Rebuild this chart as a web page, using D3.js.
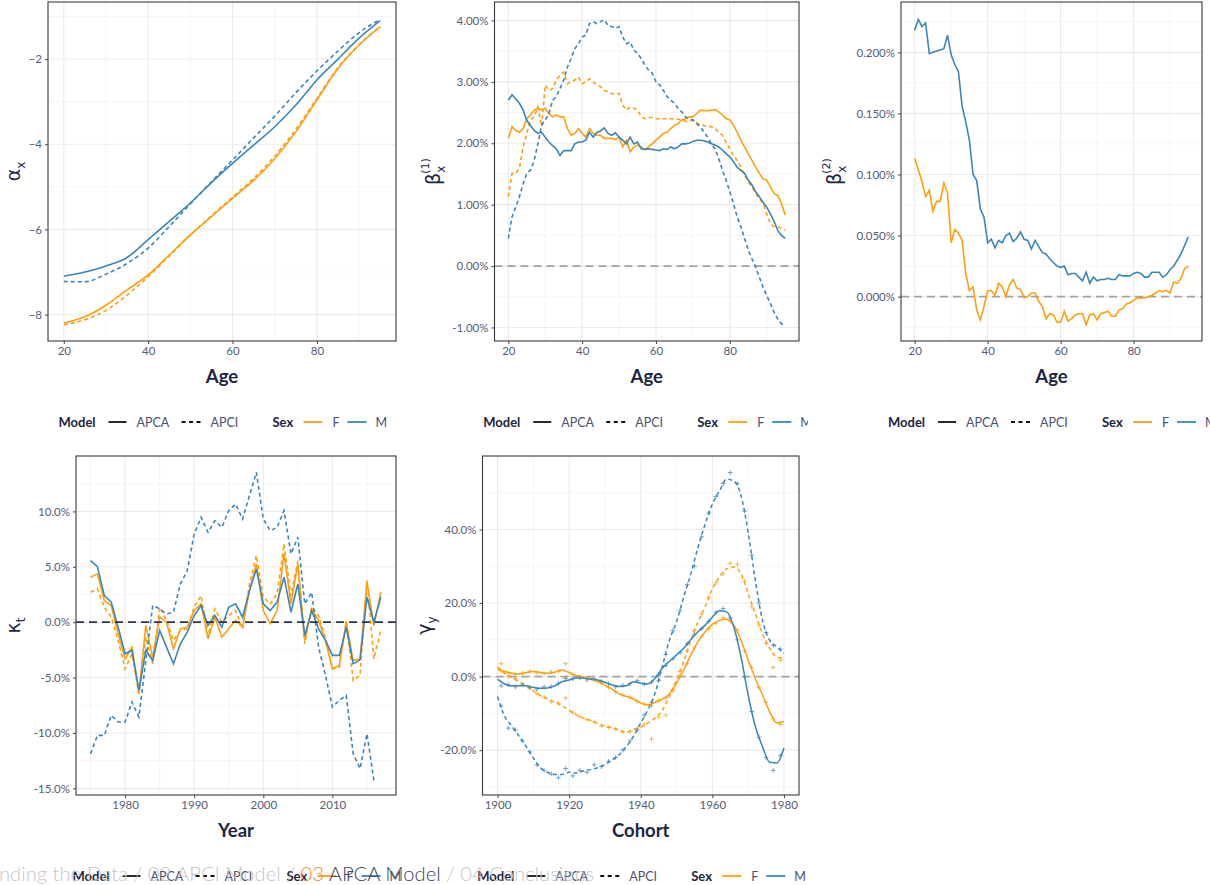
<!DOCTYPE html>
<html>
<head>
<meta charset="utf-8">
<script src="https://cdn.jsdelivr.net/npm/d3@7"></script>
<style>
  body { margin: 0; background: #fff; }
  svg { display: block; font-family: Lato, "Open Sans", sans-serif; }
</style>
</head>
<body>
<svg id="chart" width="1210" height="885"></svg>
<script>
// ---- data ----
const ages5 = [20, 25, 30, 35, 40, 45, 50, 55, 60, 65, 70, 75, 80, 85, 90, 95];
const alphaApcaF = [-8.20, -8.05, -7.78, -7.42, -7.07, -6.60, -6.13, -5.70, -5.27, -4.85, -4.34, -3.71, -2.96, -2.22, -1.67, -1.24];
const alphaApciF = [-8.24, -8.12, -7.90, -7.54, -7.11, -6.62, -6.13, -5.68, -5.24, -4.80, -4.28, -3.65, -2.92, -2.20, -1.66, -1.24];
const alphaApcaM = [-7.10, -7.00, -6.86, -6.66, -6.24, -5.81, -5.38, -4.90, -4.45, -4.02, -3.59, -3.08, -2.49, -2.00, -1.51, -1.10];
const alphaApciM = [-7.22, -7.23, -7.05, -6.80, -6.44, -5.93, -5.40, -4.88, -4.37, -3.85, -3.34, -2.79, -2.28, -1.81, -1.38, -1.07];

const ages = d3.range(20, 96);
const beta1ApcaF = [2.08, 2.27, 2.21, 2.18, 2.24, 2.40, 2.46, 2.54, 2.57, 2.54, 2.57, 2.48, 2.43, 2.46, 2.43, 2.43, 2.24, 2.13, 2.16, 2.24,
  2.16, 2.10, 2.24, 2.16, 2.13, 2.13, 2.08, 2.08, 2.08, 2.06, 2.10, 1.94, 2.05, 1.86, 1.94, 1.97, 1.94, 1.90, 1.94, 1.99,
  2.05, 2.10, 2.16, 2.18, 2.24, 2.29, 2.32, 2.38, 2.40, 2.43, 2.43, 2.48, 2.54, 2.53, 2.53, 2.54, 2.55, 2.51, 2.46, 2.40,
  2.38, 2.29, 2.18, 2.05, 1.94, 1.83, 1.72, 1.61, 1.51, 1.42, 1.40, 1.29, 1.18, 1.15, 1.02, 0.83];
const beta1ApciF = [1.13, 1.51, 1.51, 1.59, 1.94, 2.16, 2.38, 2.43, 2.59, 2.27, 2.95, 2.86, 2.89, 3.03, 3.11, 3.16, 2.97, 3.00, 3.03, 3.08,
  2.97, 3.00, 3.05, 3.00, 2.95, 2.92, 2.86, 2.84, 2.81, 2.80, 2.81, 2.62, 2.54, 2.59, 2.57, 2.54, 2.43, 2.40, 2.42, 2.42,
  2.40, 2.40, 2.40, 2.40, 2.40, 2.40, 2.39, 2.38, 2.36, 2.35, 2.38, 2.33, 2.31, 2.29, 2.27, 2.27, 2.24, 2.18, 2.13, 2.02,
  1.91, 1.80, 1.72, 1.61, 1.48, 1.37, 1.29, 1.18, 1.10, 1.02, 0.85, 0.69, 0.64, 0.64, 0.61, 0.58];
const beta1ApcaM = [2.70, 2.79, 2.72, 2.65, 2.54, 2.37, 2.29, 2.21, 2.16, 2.18, 2.10, 2.02, 1.96, 1.91, 1.80, 1.88, 1.88, 1.88, 1.99, 2.02,
  2.02, 2.05, 2.18, 2.10, 2.18, 2.20, 2.25, 2.16, 2.13, 2.17, 2.10, 2.05, 1.99, 2.10, 1.99, 2.02, 1.91, 1.90, 1.91, 1.90,
  1.89, 1.88, 1.91, 1.90, 1.94, 1.91, 1.94, 1.99, 1.99, 2.00, 2.03, 2.05, 2.05, 2.04, 2.02, 1.99, 1.97, 1.94, 1.89, 1.83,
  1.78, 1.70, 1.61, 1.56, 1.51, 1.40, 1.32, 1.21, 1.13, 1.04, 0.96, 0.85, 0.73, 0.58, 0.50, 0.45];
const beta1ApciM = [0.45, 0.80, 0.96, 1.13, 1.34, 1.51, 1.56, 1.72, 1.99, 2.29, 2.38, 2.48, 2.70, 2.76, 2.89, 3.03, 3.24, 3.38, 3.54, 3.62,
  3.73, 3.76, 3.95, 3.98, 3.95, 3.98, 4.01, 3.92, 3.90, 3.87, 3.90, 3.73, 3.62, 3.65, 3.52, 3.46, 3.38, 3.27, 3.19, 3.14,
  3.00, 2.95, 2.86, 2.76, 2.70, 2.65, 2.57, 2.51, 2.43, 2.40, 2.38, 2.32, 2.27, 2.18, 2.10, 1.99, 1.91, 1.75, 1.56, 1.40,
  1.21, 1.02, 0.80, 0.64, 0.45, 0.26, 0.12, -0.02, -0.18, -0.34, -0.48, -0.61, -0.75, -0.86, -0.94, -0.97];

const beta2ApcaF = [0.113, 0.104, 0.094, 0.082, 0.087, 0.070, 0.078, 0.078, 0.093, 0.085, 0.044, 0.055, 0.052, 0.046, 0.019, 0.005, 0.008, -0.011, -0.019, -0.008,
  0.005, 0.005, 0.001, 0.011, 0.008, 0.000, 0.010, 0.014, 0.007, 0.006, -0.001, 0.000, 0.003, 0.003, -0.004, -0.008, -0.018, -0.014, -0.015, -0.021,
  -0.021, -0.012, -0.020, -0.018, -0.015, -0.014, -0.014, -0.023, -0.015, -0.014, -0.019, -0.014, -0.013, -0.012, -0.016, -0.016, -0.011, -0.010, -0.006, -0.005,
  -0.003, -0.001, -0.001, -0.001, 0.000, 0.001, 0.003, 0.005, 0.004, 0.005, 0.003, 0.012, 0.011, 0.015, 0.023, 0.025];
const beta2ApcaM = [0.218, 0.227, 0.221, 0.224, 0.199, 0.200, 0.201, 0.202, 0.203, 0.214, 0.198, 0.190, 0.184, 0.156, 0.143, 0.128, 0.100, 0.095, 0.072, 0.065,
  0.044, 0.047, 0.040, 0.046, 0.044, 0.050, 0.052, 0.045, 0.048, 0.053, 0.047, 0.046, 0.039, 0.046, 0.041, 0.036, 0.035, 0.031, 0.028, 0.025,
  0.024, 0.025, 0.018, 0.019, 0.019, 0.016, 0.013, 0.020, 0.011, 0.016, 0.013, 0.014, 0.014, 0.015, 0.014, 0.014, 0.018, 0.017, 0.017, 0.017,
  0.019, 0.020, 0.019, 0.016, 0.016, 0.020, 0.020, 0.020, 0.016, 0.018, 0.022, 0.025, 0.030, 0.035, 0.042, 0.049];

const years = d3.range(1975, 2018);
const kappaApcaF = [4.06, 4.36, 1.95, 1.50, -1.05, -3.31, -2.25, -6.46, -0.30, -3.16, 0.45, 0.00, -2.40, -0.60, -0.45, 1.05, 1.65, -1.50, 0.45, -1.35, -0.60,
  0.15, -0.45, 2.85, 5.26, 1.05, -0.15, 1.05, 6.16, 1.65, 5.26, -1.65, 1.20, 0.15, -1.65, -4.21, -3.91, 0.00, -3.46, -3.31, 3.61, -0.30, 2.70];
const kappaApciF = [2.70, 3.00, 1.35, 0.45, -1.65, -4.21, -2.85, -6.46, -1.35, -3.76, 1.35, 0.15, -1.65, -0.75, -0.60, 1.35, 2.40, -1.20, 1.20, 0.00, 0.60,
  1.05, -0.60, 3.46, 6.01, 2.25, 1.65, 2.55, 7.06, 2.40, 5.56, -1.95, 1.35, 0.60, -1.50, -4.21, -4.06, 0.15, -5.26, -4.81, 3.76, -3.31, -0.75];
const kappaApcaM = [5.56, 5.02, 2.40, 1.80, -0.45, -2.85, -2.55, -6.16, -2.55, -3.46, -0.75, -2.25, -3.76, -1.95, -0.90, 0.60, 1.50, -0.30, 0.60, -0.45, 1.35,
  1.65, 0.45, 2.85, 4.81, 1.65, 1.05, 1.80, 4.06, 0.90, 3.46, -1.20, 1.05, -0.60, -1.65, -3.00, -3.00, -0.45, -3.76, -3.40, 2.25, 0.00, 2.25];
const kappaApciM = [-11.87, -10.22, -10.22, -8.41, -9.01, -9.01, -7.21, -8.56, -3.46, 1.50, 1.20, 0.75, 0.90, 3.46, 4.66, 7.96, 9.47, 8.11, 9.16, 8.56, 10.07,
  10.67, 9.31, 11.42, 13.52, 9.31, 8.26, 8.56, 10.07, 6.16, 7.66, 1.65, 2.70, -2.25, -4.81, -7.66, -7.06, -6.61, -11.87, -13.22, -10.07, -14.27, null];

const cohorts = d3.range(1900, 1981, 2);
const gammaApcaF = [2.0, 1.4, 0.9, 0.7, 1.1, 1.4, 1.1, 0.9, 1.2, 1.8, 1.1, 0.3, -0.2, -0.5, -1.4, -2.3, -3.4, -4.7, -5.4, -6.1, -7.2,
  -7.7, -7.0, -6.1, -4.7, -1.8, 1.8, 5.9, 9.5, 12.2, 14.2, 15.3, 15.6, 14.0, 9.9, 4.5, -0.5, -5.0, -9.5, -12.6, -12.2];
const gammaApciF = [2.7, 0.9, -0.2, -1.4, -2.5, -3.8, -5.2, -6.1, -7.0, -7.9, -9.2, -10.4, -11.3, -11.9, -12.8, -13.5, -14.0, -14.6, -15.2, -14.4, -13.7,
  -12.6, -11.3, -9.2, -5.4, -0.9, 4.1, 9.9, 14.9, 19.0, 23.9, 27.1, 29.3, 29.8, 28.0, 22.6, 17.1, 11.7, 7.7, 5.4, 5.0];
const gammaApcaM = [-0.7, -2.0, -2.5, -2.5, -2.5, -2.9, -3.2, -3.1, -2.5, -1.4, -0.9, -0.4, -0.4, -0.7, -0.9, -1.6, -2.3, -2.7, -2.5, -1.4, -1.8,
  -2.0, -0.5, 2.3, 4.1, 5.9, 7.7, 10.1, 12.2, 14.0, 16.2, 17.9, 17.6, 13.5, 5.4, -5.0, -13.5, -19.0, -23.3, -23.5, -19.4];
const gammaApciM = [-5.4, -10.8, -13.5, -16.2, -19.0, -22.1, -24.8, -26.0, -26.6, -26.6, -26.0, -26.2, -25.7, -25.3, -24.8, -23.9, -22.7, -21.2, -19.0, -16.2, -12.6,
  -9.0, -4.5, 2.7, 9.9, 14.9, 21.7, 28.0, 35.2, 41.5, 46.9, 50.5, 53.7, 53.2, 49.2, 39.3, 26.2, 15.3, 9.9, 8.1, 6.3];

// raw cohort estimates (the "+" marks)
const cohortsOdd = d3.range(1901, 1980, 2);
const gammaPtsApcaF = [3.5, 1.0, 0.6, 0.9, 1.5, 1.0, 0.8, 1.3, 1.4, 3.5, 0.5, -0.1, -0.4, -1.0, -1.6, -2.9, -4.2, -5.0, -5.5, -6.8,
  -7.5, -8.0, -6.5, -5.8, -3.9, 0.2, 3.5, 7.8, 11.0, 13.0, 14.5, 16.0, 15.0, 12.5, 7.0, 2.5, -3.0, -7.0, -11.5, -13.0];
const gammaPtsApciF = [1.5, 0.0, -0.5, -2.0, -3.2, -4.6, -5.6, -6.8, -7.2, -5.8, -9.8, -10.9, -11.7, -12.3, -13.4, -13.8, -14.2, -15.0, -14.9, -14.2,
  -13.0, -17.0, -11.0, -10.5, -3.5, 1.5, 7.0, 12.5, 17.0, 21.5, 25.5, 28.0, 30.8, 30.5, 26.0, 19.0, 14.0, 9.0, 2.5, 4.5];
const gammaPtsApcaM = [-2.5, -2.2, -2.8, -2.3, -3.0, -3.4, -2.8, -2.7, -1.8, -0.5, -0.6, -0.3, -0.9, -0.6, -1.3, -1.9, -2.8, -2.4, -1.9, -1.1,
  -2.1, -1.5, 0.5, 3.0, 4.8, 6.5, 9.0, 11.5, 13.0, 15.0, 17.5, 18.5, 16.0, 10.0, 0.0, -9.5, -16.5, -22.0, -25.5, -21.5];
const gammaPtsApciM = [-8.0, -14.0, -14.5, -17.5, -20.5, -24.0, -25.5, -26.5, -27.5, -25.0, -27.0, -25.5, -26.0, -24.0, -24.5, -23.0, -22.0, -20.0, -17.5, -14.5,
  -10.5, -7.0, -1.0, 6.0, 12.5, 18.0, 25.0, 30.0, 38.0, 44.5, 49.0, 52.5, 55.5, 52.5, 45.0, 33.0, 20.0, 12.0, 8.5, 7.5];

// ---- style ----
const ORANGE = "#FF9F10";
const BLUE = "#3A86BA";
const TICK = "#555b78";
const TITLE = "#1d2544";
const DASH = "4,3";

const svg = d3.select("#chart");
let clipId = 0;

function drawPanel(p) {
  const g = svg.append("g");
  const x = d3.scaleLinear().domain(p.xDomain).range([p.left, p.right]);
  const y = d3.scaleLinear().domain(p.yDomain).range([p.bottom, p.top]);

  // grid
  g.selectAll(".ymin").data(p.yMinor).enter().append("line")
    .attr("x1", p.left).attr("x2", p.right)
    .attr("y1", d => y(d)).attr("y2", d => y(d))
    .attr("stroke", "#f3f3f3").attr("stroke-width", 0.8);
  g.selectAll(".xmin").data(p.xMinor).enter().append("line")
    .attr("y1", p.top).attr("y2", p.bottom)
    .attr("x1", d => x(d)).attr("x2", d => x(d))
    .attr("stroke", "#f3f3f3").attr("stroke-width", 0.8);
  g.selectAll(".ymaj").data(p.yTicks).enter().append("line")
    .attr("x1", p.left).attr("x2", p.right)
    .attr("y1", d => y(d)).attr("y2", d => y(d))
    .attr("stroke", "#ebebeb").attr("stroke-width", 1.1);
  g.selectAll(".xmaj").data(p.xTicks).enter().append("line")
    .attr("y1", p.top).attr("y2", p.bottom)
    .attr("x1", d => x(d)).attr("x2", d => x(d))
    .attr("stroke", "#ebebeb").attr("stroke-width", 1.1);

  const cid = "clip" + (clipId++);
  g.append("clipPath").attr("id", cid).append("rect")
    .attr("x", p.left).attr("y", p.top)
    .attr("width", p.right - p.left).attr("height", p.bottom - p.top);
  const plot = g.append("g").attr("clip-path", `url(#${cid})`);

  if (p.zero) {
    plot.append("line")
      .attr("x1", p.left).attr("x2", p.right)
      .attr("y1", y(0)).attr("y2", y(0))
      .attr("stroke", p.zero).attr("stroke-width", 1.6)
      .attr("stroke-dasharray", "8,5");
  }

  const line = d3.line()
    .defined(d => d[1] !== null)
    .x(d => x(d[0])).y(d => y(d[1]));
  if (p.smooth) line.curve(d3.curveMonotoneX);

  p.series.forEach(s => {
    plot.append("path")
      .datum(s.xs.map((v, i) => [v, s.ys[i]]))
      .attr("fill", "none")
      .attr("stroke", s.color)
      .attr("stroke-width", s.width || 1.6)
      .attr("stroke-dasharray", s.dashed ? DASH : null)
      .attr("d", line);
  });

  (p.points || []).forEach(s => {
    plot.selectAll(null).data(s.xs.map((v, i) => [v, s.ys[i]])).enter().append("path")
      .attr("transform", d => `translate(${x(d[0])},${y(d[1])})`)
      .attr("d", "M-2.3,0H2.3M0,-2.3V2.3")
      .attr("stroke", s.color).attr("stroke-width", 1)
      .attr("opacity", 0.75);
  });

  if (p.zeroTop) {
    plot.append("line")
      .attr("x1", p.left).attr("x2", p.right)
      .attr("y1", y(0)).attr("y2", y(0))
      .attr("stroke", p.zeroTop).attr("stroke-width", 1.8)
      .attr("stroke-dasharray", "8,5");
  }

  // border
  g.append("rect")
    .attr("x", p.left).attr("y", p.top)
    .attr("width", p.right - p.left).attr("height", p.bottom - p.top)
    .attr("fill", "none").attr("stroke", "#3a3a3a").attr("stroke-width", 1.1);

  // axes
  const xa = g.append("g").attr("transform", `translate(0,${p.bottom})`)
    .call(d3.axisBottom(x).tickValues(p.xTicks).tickSize(3).tickPadding(3).tickFormat(d3.format("d")));
  const ya = g.append("g").attr("transform", `translate(${p.left},0)`)
    .call(d3.axisLeft(y).tickValues(p.yTicks).tickSize(3).tickPadding(3).tickFormat(p.yFormat));
  [xa, ya].forEach(a => {
    a.select(".domain").remove();
    a.selectAll(".tick line").attr("stroke", "#444").attr("stroke-width", 1);
    a.selectAll("text").attr("fill", TICK).attr("font-size", 11.5).attr("font-family", "Lato, sans-serif");
  });

  g.append("text")
    .attr("x", (p.left + p.right) / 2).attr("y", p.bottom + 42)
    .attr("text-anchor", "middle")
    .attr("font-size", 18.5).attr("font-weight", 700).attr("fill", TITLE)
    .text(p.xLabel);

  const yl = g.append("text")
    .attr("transform", `translate(${p.yLabelX},${(p.top + p.bottom) / 2}) rotate(-90)`)
    .attr("text-anchor", "middle")
    .attr("font-size", 19).attr("fill", TITLE)
    .attr("font-family", "DejaVu Sans, sans-serif");
  yl.append("tspan").text(p.yLabel[0]);
  yl.append("tspan").attr("font-size", 12).attr("dy", 5).text(p.yLabel[1]);
  if (p.yLabel[2]) {
    yl.append("tspan").attr("font-size", 11).attr("dx", -8).attr("dy", -16).text(p.yLabel[2]);
  }

  drawLegend((p.left + p.right) / 2, p.legendY, p.legendClip);
}

function drawLegend(cx, cy, clipRight) {
  const start = cx - 163.5;
  const g = svg.append("g");
  if (clipRight) {
    const cid = "clip" + (clipId++);
    svg.append("clipPath").attr("id", cid).append("rect")
      .attr("x", 0).attr("y", cy - 15).attr("width", clipRight).attr("height", 30);
    g.attr("clip-path", `url(#${cid})`);
  }
  const items = [
    { t: "Model", x: 0, bold: true },
    { line: "#111", x1: 50, x2: 68 },
    { t: "APCA", x: 78 },
    { line: "#111", x1: 123, x2: 142, dashed: true },
    { t: "APCI", x: 152 },
    { t: "Sex", x: 214, bold: true },
    { line: ORANGE, x1: 245, x2: 264 },
    { t: "F", x: 274 },
    { line: BLUE, x1: 289, x2: 308 },
    { t: "M", x: 317 }
  ];
  items.forEach(it => {
    if (it.line) {
      g.append("line")
        .attr("x1", start + it.x1).attr("x2", start + it.x2)
        .attr("y1", cy).attr("y2", cy)
        .attr("stroke", it.line).attr("stroke-width", 1.8)
        .attr("stroke-dasharray", it.dashed ? "4,3.5" : null);
    } else {
      g.append("text")
        .attr("x", start + it.x).attr("y", cy + 4.5)
        .attr("font-size", it.bold ? 13 : 12.5)
        .attr("font-weight", it.bold ? 700 : 400)
        .attr("fill", it.bold ? TITLE : "#4b5170")
        .text(it.t);
    }
  });
}

const ageX = { xDomain: [16.25, 98.75], xTicks: [20, 40, 60, 80], xMinor: [30, 50, 70, 90], xLabel: "Age", top: 2, bottom: 341, legendY: 422 };

drawPanel(Object.assign({}, ageX, {
  left: 48, right: 396,
  yDomain: [-8.62, -0.66], yTicks: [-8, -6, -4, -2], yMinor: [-7, -5, -3, -1],
  yFormat: d3.format("d"), yLabel: ["α", "x"], yLabelX: 20, smooth: true,
  series: [
    { xs: ages5, ys: alphaApciF, color: ORANGE, dashed: true },
    { xs: ages5, ys: alphaApcaF, color: ORANGE },
    { xs: ages5, ys: alphaApciM, color: BLUE, dashed: true },
    { xs: ages5, ys: alphaApcaM, color: BLUE }
  ]
}));

drawPanel(Object.assign({}, ageX, {
  left: 494.5, right: 799,
  yDomain: [-1.22, 4.30], yTicks: [-1, 0, 1, 2, 3, 4], yMinor: [-0.5, 0.5, 1.5, 2.5, 3.5],
  yFormat: d => d.toFixed(2) + "%", yLabel: ["β", "x", "(1)"], yLabelX: 440, zero: "#a3a3a3",
  legendClip: 808,
  series: [
    { xs: ages, ys: beta1ApciF, color: ORANGE, dashed: true },
    { xs: ages, ys: beta1ApcaF, color: ORANGE },
    { xs: ages, ys: beta1ApciM, color: BLUE, dashed: true },
    { xs: ages, ys: beta1ApcaM, color: BLUE }
  ]
}));

drawPanel(Object.assign({}, ageX, {
  left: 901, right: 1202,
  yDomain: [-0.0363, 0.2412], yTicks: [0, 0.05, 0.1, 0.15, 0.2], yMinor: [-0.025, 0.025, 0.075, 0.125, 0.175, 0.225],
  yFormat: d => d.toFixed(3) + "%", yLabel: ["β", "x", "(2)"], yLabelX: 841, zero: "#a3a3a3",
  series: [
    { xs: ages, ys: beta2ApcaF, color: ORANGE },
    { xs: ages, ys: beta2ApcaM, color: BLUE }
  ]
}));

drawPanel({
  left: 76, right: 396, top: 456, bottom: 795,
  xDomain: [1972.9, 2019.2], xTicks: [1980, 1990, 2000, 2010], xMinor: [1975, 1985, 1995, 2005, 2015], xLabel: "Year",
  yDomain: [-15.6, 15.0], yTicks: [-15, -10, -5, 0, 5, 10], yMinor: [-12.5, -7.5, -2.5, 2.5, 7.5, 12.5],
  yFormat: d => d.toFixed(1) + "%", yLabel: ["κ", "t"], yLabelX: 20, zeroTop: "#2b3553",
  legendY: 876,
  series: [
    { xs: years, ys: kappaApciF, color: ORANGE, dashed: true },
    { xs: years, ys: kappaApcaF, color: ORANGE },
    { xs: years, ys: kappaApciM, color: BLUE, dashed: true },
    { xs: years, ys: kappaApcaM, color: BLUE }
  ]
});

drawPanel({
  left: 482.5, right: 799, top: 456, bottom: 795,
  xDomain: [1895.8, 1984.2], xTicks: [1900, 1920, 1940, 1960, 1980], xMinor: [1910, 1930, 1950, 1970], xLabel: "Cohort",
  yDomain: [-32.2, 60], yTicks: [-20, 0, 20, 40], yMinor: [-30, -10, 10, 30, 50],
  yFormat: d => d.toFixed(1) + "%", yLabel: ["γ", "y"], yLabelX: 431, zero: "#a3a3a3", smooth: true,
  legendY: 876,
  series: [
    { xs: cohorts, ys: gammaApciF, color: ORANGE, dashed: true, width: 1.5 },
    { xs: cohorts, ys: gammaApcaF, color: ORANGE, width: 1.5 },
    { xs: cohorts, ys: gammaApciM, color: BLUE, dashed: true, width: 1.5 },
    { xs: cohorts, ys: gammaApcaM, color: BLUE, width: 1.5 }
  ],
  points: [
    { xs: cohortsOdd, ys: gammaPtsApciF, color: ORANGE },
    { xs: cohortsOdd, ys: gammaPtsApcaF, color: ORANGE },
    { xs: cohortsOdd, ys: gammaPtsApciM, color: BLUE },
    { xs: cohortsOdd, ys: gammaPtsApcaM, color: BLUE }
  ]
});

// slide breadcrumb overlaid at the bottom
const crumb = svg.append("text")
  .attr("x", -1).attr("y", 881)
  .attr("font-size", 20.2).attr("font-weight", 300)
  .attr("font-family", "Lato, sans-serif");
crumb.append("tspan").attr("fill", "#c6c6c6").text("nding the Data / 02 APCI Model / ");
crumb.append("tspan").attr("fill", "#F08A24").text("03 ");
crumb.append("tspan").attr("fill", "#3d4463").text("APCA Model");
crumb.append("tspan").attr("fill", "#c6c6c6").text(" / 04 Conclusions");
</script>
</body>
</html>
